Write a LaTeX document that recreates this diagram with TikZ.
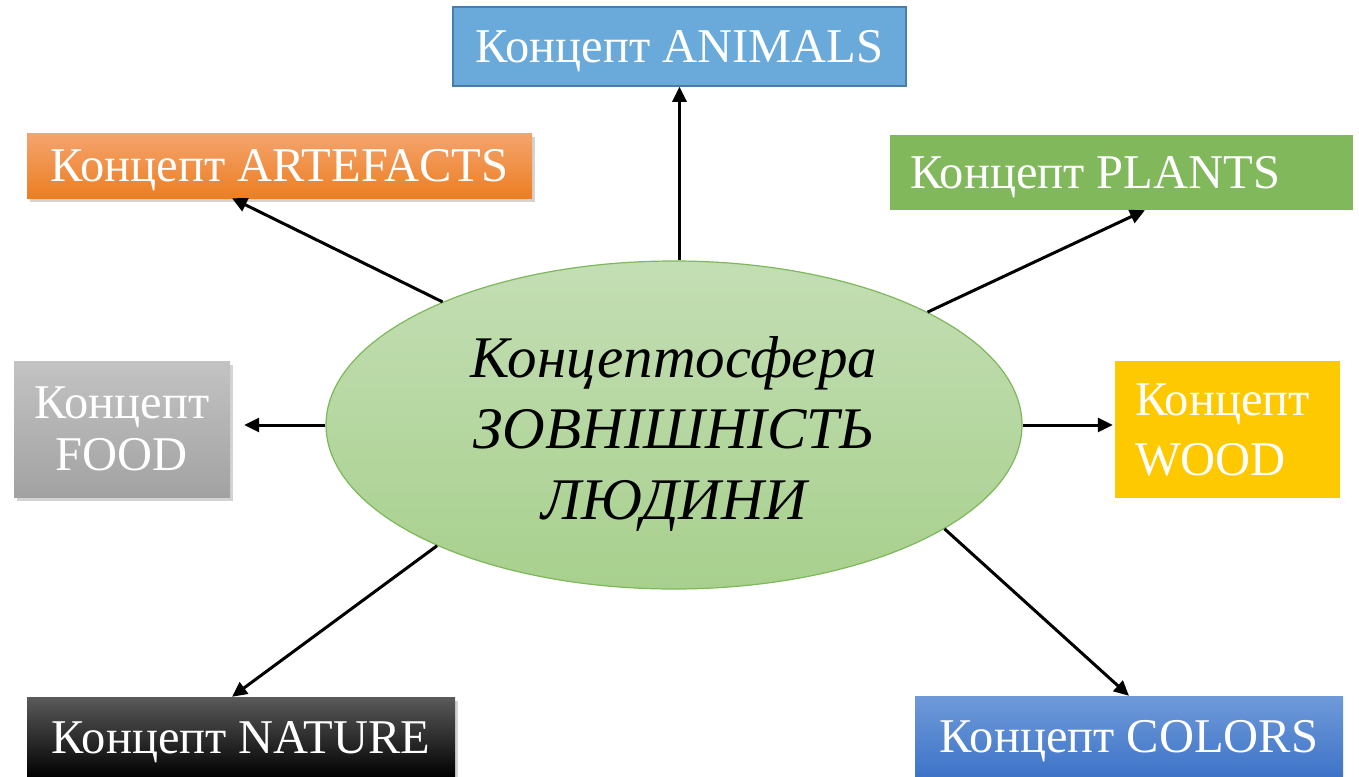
\documentclass[tikz,border=0pt]{standalone}
\usepackage{fontspec}
\setmainfont{Liberation Serif}
\usetikzlibrary{shapes.geometric,shadows,arrows.meta}

\definecolor{spheretop}{HTML}{C3DEB4}
\definecolor{spherebottom}{HTML}{A8D08D}
\definecolor{spheredraw}{HTML}{7DB85A}
\definecolor{animalsfill}{HTML}{6AAADB}
\definecolor{animalsdraw}{HTML}{4A7DAF}
\definecolor{artefactstop}{HTML}{F5A46E}
\definecolor{artefactsbottom}{HTML}{EC7E22}
\definecolor{plantsfill}{HTML}{81B85B}
\definecolor{foodtop}{HTML}{C3C3C3}
\definecolor{foodbottom}{HTML}{A2A2A2}
\definecolor{woodfill}{HTML}{FFC900}
\definecolor{naturetop}{HTML}{5A5A5A}
\definecolor{colorstop}{HTML}{6F9AD9}
\definecolor{colorsbottom}{HTML}{3E74C8}

\begin{document}
\begin{tikzpicture}[x=1pt,y=-1pt]

\tikzstyle{concept}=[shape=rectangle,text=white,font=\fontsize{48.5}{56}\selectfont,inner sep=0pt,anchor=center];
\tikzstyle{flat}=[concept,text depth=0pt];
\tikzstyle{boxshadow}=[drop shadow={opacity=0.35,shadow xshift=3pt,shadow yshift=-4pt}];
\tikzstyle{arr}=[-{Triangle[length=15pt,width=14pt]},line width=3pt];

\useasboundingbox (0,0) rectangle (1359,776);

% Draw the central concept sphere
\node[draw=spheredraw,line width=1.2pt,shape=ellipse,minimum width=696pt,minimum height=328pt,inner sep=0pt,
  top color=spheretop,bottom color=spherebottom,align=center,font=\itshape\fontsize{59}{71}\selectfont]
  (sphere) at (674,425) {\rule{0pt}{58pt}Концептосфера\\ЗОВНІШНІСТЬ\\ЛЮДИНИ};

% Draw the concept boxes
\node[flat,fill=animalsfill,draw=animalsdraw,line width=1.5pt,minimum width=453pt,minimum height=79pt] (animals) at (679.5,46.5) {Концепт ANIMALS};
\node[flat,boxshadow,top color=artefactstop,bottom color=artefactsbottom,minimum width=505pt,minimum height=65pt] (artefacts) at (279.5,165.5) {Концепт ARTEFACTS};
\node[flat,fill=plantsfill,inner xsep=20pt,minimum height=75pt] (plants) at (1121.5,172.5) {\makebox[423pt][l]{Концепт PLANTS}};
\node[concept,boxshadow,top color=foodtop,bottom color=foodbottom,minimum width=216pt,minimum height=136pt,align=center,font=\fontsize{48.5}{52}\selectfont] (food) at (122,429) {Концепт\\FOOD};
\node[concept,fill=woodfill,text width=185pt,inner xsep=20pt,align=left,minimum height=137pt,font=\fontsize{48.5}{60}\selectfont] (wood) at (1227.5,429.5) {Концепт\\WOOD};
\node[flat,boxshadow,top color=naturetop,middle color=black,bottom color=black,minimum width=428pt,minimum height=81pt] (nature) at (241,737.5) {Концепт NATURE};
\node[flat,top color=colorstop,bottom color=colorsbottom,minimum width=428pt,minimum height=80pt] (colors) at (1129,736) {Концепт COLORS};

% Links from the sphere to the concepts
\draw[arr] (animals.south |- sphere.north) -- (animals.south);
\draw[arr] (sphere.152) -- ([xshift=-47.5pt]artefacts.south);
\draw[arr] (sphere.24.4) -- ([xshift=23.5pt]plants.south);
\draw[arr,shorten >=14pt] (sphere.west) -- (sphere.west -| food.east);
\draw[arr,shorten >=2pt] (sphere.east) -- (sphere.east -| wood.west);
\draw[arr] (sphere.207) -- ([xshift=-9pt]nature.north);
\draw[arr] (sphere.339) -- (colors.north);

\end{tikzpicture}
\end{document}
